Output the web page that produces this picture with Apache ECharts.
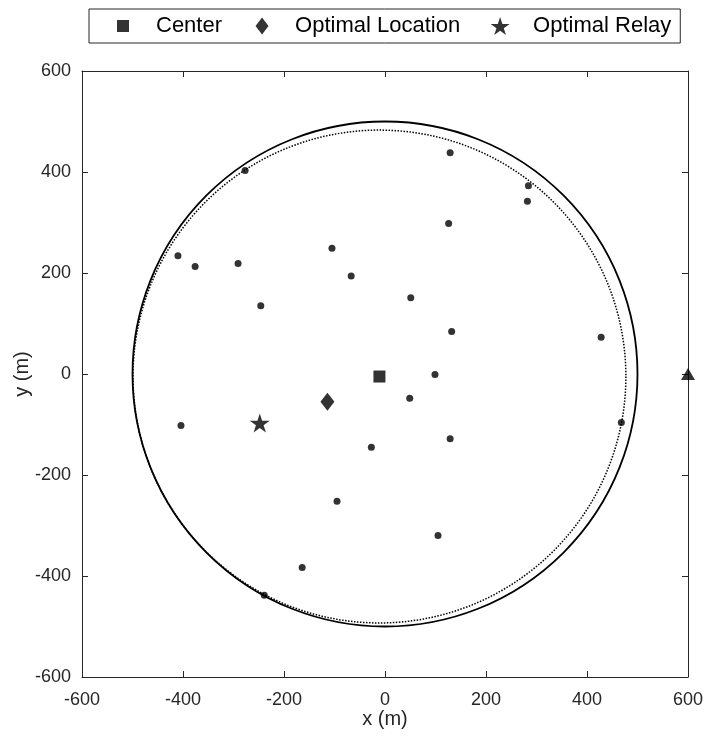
<!DOCTYPE html>
<html>
<head>
<meta charset="utf-8">
<script src="https://cdn.jsdelivr.net/npm/echarts@6/dist/echarts.min.js"></script>
<style>
html,body{margin:0;padding:0;background:#fff;}
#chart{width:705px;height:738px;}
</style>
</head>
<body>
<div id="chart"></div>
<script>
// ---- data ----
const userX = [-277, -410, -376, -291, -105, -67, -246, 129, 284, 282, 126, 51, 132, 428, 99, -404, -27, -95, -164, -239, 49, 129, 468, 105];
const userY = [403, 234, 213, 219, 249, 194, 135, 438, 373, 342, 298, 151, 84, 73, -1, -102, -145, -252, -383, -438, -48, -128, -96, -320];
const centerPt = [-11, -5];
const optimalLocation = [-114, -55];
const optimalRelay = [-248, -97];
const baseStation = [600, 0];
const areaCircle = [0, 0, 500];        // cx, cy, radius (solid)
const coverCircle = [-11, -5, 488];    // cx, cy, radius (dotted)
const axisMin = -600, axisMax = 600, axisStep = 200;
const legendNames = ['Center', 'Optimal Location', 'Optimal Relay'];

const FONT = "'Liberation Sans', Arial, Helvetica, sans-serif";
const AX = '#262626';
const starPath = 'path://M10,0L12.245,6.91L19.511,6.91L13.633,11.18L15.878,18.09L10,13.82L4.122,18.09L6.367,11.18L0.489,6.91L7.755,6.91Z';
const diamondPath = 'path://M7,0L14,9L7,18L0,9Z';
// legend icons: bounding box 56x18 (via move-to points) so the icon sits centred in its slot
const squareLegend = 'path://M0,0M56,18M22,3L34,3L34,15L22,15Z';
const diamondLegend = 'path://M0,0M56,18M28,0.5L34.5,9L28,17.5L21.5,9Z';
const starLegend = 'path://M0,0M56,18M28,0L30.245,6.91L37.511,6.91L31.633,11.18L33.878,18L28,13.82L22.122,18L24.367,11.18L18.489,6.91L25.755,6.91Z';

function circleSeries(c, dashed) {
  return {
    type: 'custom',
    silent: true,
    z: 1,
    data: [c],
    renderItem: function (params, api) {
      const p = api.coord([api.value(0), api.value(1)]);
      const s = api.size([api.value(2), api.value(2)]);
      return {
        type: 'circle',
        shape: { cx: p[0], cy: p[1], r: s[0] },
        style: {
          fill: null,
          stroke: '#000',
          lineWidth: dashed ? 1.5 : 1.8,
          lineDash: dashed ? [1.5, 1.5] : null
        }
      };
    }
  };
}

function axisCommon(showLabel) {
  return {
    type: 'value', min: axisMin, max: axisMax, interval: axisStep,
    axisLine: { show: true, onZero: false, lineStyle: { color: AX, width: 1 } },
    axisTick: { show: true, inside: true, length: 6, lineStyle: { color: AX } },
    splitLine: { show: false },
    axisLabel: { show: showLabel, color: AX, fontFamily: FONT, fontSize: 18 }
  };
}

const xBottom = Object.assign(axisCommon(true), {
  position: 'bottom', name: 'x (m)', nameLocation: 'middle', nameGap: 32,
  nameMoveOverlap: false,
  nameTextStyle: { color: AX, fontFamily: FONT, fontSize: 20 }
});
xBottom.axisLabel.margin = 14;
const xTop = Object.assign(axisCommon(false), { position: 'top' });
const yLeft = Object.assign(axisCommon(true), {
  position: 'left', name: 'y (m)', nameLocation: 'middle', nameGap: 50, nameRotate: 90,
  nameMoveOverlap: false,
  nameTextStyle: { color: AX, fontFamily: FONT, fontSize: 20 }
});
yLeft.axisLabel.margin = 11;
const yRight = Object.assign(axisCommon(false), { position: 'right' });

const chart = echarts.init(document.getElementById('chart'), null, { renderer: 'canvas' });
chart.setOption({
  animation: false,
  backgroundColor: '#fff',
  grid: { left: 82, top: 71, width: 606, height: 606, containLabel: false, outerBoundsMode: 'none' },
  legend: {
    left: 89, top: 9,
    orient: 'horizontal',
    padding: [6, 9, 6, 6],
    itemGap: 12,
    itemWidth: 56,
    itemHeight: 18,
    borderColor: AX,
    borderWidth: 1,
    borderRadius: 0,
    backgroundColor: '#fff',
    textStyle: { color: '#000', fontFamily: FONT, fontSize: 22 },
    data: [
      { name: legendNames[0], icon: squareLegend },
      { name: legendNames[1], icon: diamondLegend },
      { name: legendNames[2], icon: starLegend }
    ]
  },
  xAxis: [xBottom, xTop],
  yAxis: [yLeft, yRight],
  series: [
    circleSeries(areaCircle, false),
    circleSeries(coverCircle, true),
    {
      name: 'Users', type: 'scatter', z: 3,
      symbol: 'circle', symbolSize: 7,
      itemStyle: { color: '#000' },
      data: userX.map((x, i) => [x, userY[i]])
    },
    {
      name: legendNames[0], type: 'scatter', z: 4,
      symbol: 'rect', symbolSize: 12,
      itemStyle: { color: '#000' },
      data: [centerPt]
    },
    {
      name: legendNames[1], type: 'scatter', z: 4,
      symbol: diamondPath, symbolSize: [14, 18],
      itemStyle: { color: '#000' },
      data: [optimalLocation]
    },
    {
      name: legendNames[2], type: 'scatter', z: 4,
      symbol: starPath, symbolSize: [20, 19],
      itemStyle: { color: '#000' },
      data: [optimalRelay]
    },
    {
      name: 'Base Station', type: 'scatter', z: 5, clip: false,
      symbol: 'triangle', symbolSize: [14, 12],
      itemStyle: { color: '#000' },
      data: [baseStation]
    }
  ]
});
</script>
</body>
</html>
